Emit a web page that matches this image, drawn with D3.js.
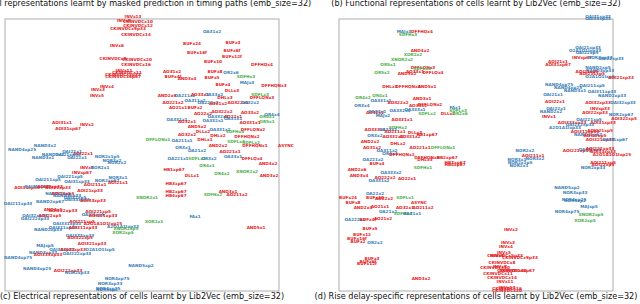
<!DOCTYPE html>
<html>
  <head>
    <meta charset="UTF-8">
    <title>Lib2Vec cell representations</title>
    <script src="https://d3js.org/d3.v7.min.js"></script>
    <style>
      body { margin: 0; background: #fff; }
      svg { display: block; }
      .cell { font-family: "DejaVu Sans", sans-serif; font-weight: bold; font-size: 4.2px; }
      .title { font-family: "DejaVu Sans", sans-serif; font-size: 8.1px; fill: #111; }
    </style>
  </head>
  <body>
    <div id="chart"></div>
    <script>

      // captions of the row above (cut off) and of this row
      const topTitles = [
        "(a) Cell representations learnt by masked prediction in timing paths (emb_size=32)",
        "(b) Functional representations of cells learnt by Lib2Vec (emb_size=32)"
      ];
      const bottomTitles = [
        "(c) Electrical representations of cells learnt by Lib2Vec (emb_size=32)",
        "(d) Rise delay-specific representations of cells learnt by Lib2Vec (emb_size=32)"
      ];

      // cell type -> colour group: r = logic/inverter/buffer, b = OAI/NAND/NOR, g = seq/xor
      const groupColors = { r: "#e41a1c", b: "#377eb8", g: "#4daf4a" };

      // (c) electrical embedding, 2-D projection [name, x, y, group]
      const elecCells = [
        ["INVx13", -9, 138, "r"], ["INVx8", -18, 134, "r"], ["CKINVDCx10", -4, 133, "r"],
        ["CKINVDCx12", -4, 129, "r"], ["CKINVDCx9p33", -14, 126, "r"], ["CKINVDCx14", -6, 120, "r"],
        ["OA31x2", 70, 123, "b"], ["BUFx24", 50, 111, "r"], ["BUFx3", 91, 112, "r"],
        ["INVx6", -25, 109, "r"], ["BUFx6f", 90, 104, "r"], ["BUFx16f", 55, 102, "r"],
        ["BUFx12f", 90, 98, "r"], ["CKINVDCx8", -29, 96, "r"], ["CKINVDCx20", -5, 95, "r"],
        ["CKINVDCx16", -6, 90, "r"], ["BUFx10", 71, 93, "r"], ["DFFHQx4", 120, 90, "r"],
        ["INVx11", -18, 84, "r"], ["CKINVDCx11", -15, 82, "r"], ["CKINVDCx5p33", -19, 80, "r"],
        ["CKINVDCx6p67", -19, 78, "r"], ["AO31x2", 30, 83, "r"], ["BUFx8", 73, 83, "r"],
        ["OR2x6", 89, 82, "b"], ["BUFx4f", 31, 78, "r"], ["AND3x4", 45, 76, "r"],
        ["BUFx5", 70, 77, "r"], ["SDFHx3", 104, 78, "g"], ["INVx4", -35, 68, "r"],
        ["INVx3", -44, 65, "r"], ["INVx5", -45, 59, "r"], ["BUFx4", 81, 70, "r"],
        ["MAJx3", 105, 72, "b"], ["DFFHQNx3", 132, 69, "r"], ["DLLx3", 90, 64, "r"],
        ["AND2x6", 25, 59, "r"], ["OA211x2", 43, 59, "b"], ["AO33x1", 58, 60, "r"],
        ["OA33x2", 72, 60, "b"], ["DHLx3", 83, 57, "r"], ["SDFLx3", 118, 60, "g"],
        ["DFFLQNx3", 120, 57, "r"], ["AO221x2", 31, 52, "r"], ["OA311x2", 53, 54, "b"],
        ["OA222x2", 66, 52, "b"], ["AO21x2", 76, 51, "r"], ["AO322x1", 96, 52, "r"],
        ["OA32x2", 108, 52, "b"], ["AO21x1", 36, 47, "r"], ["BUFx2", 53, 47, "r"],
        ["AO22x2", 61, 41, "r"], ["AO322x2", 80, 43, "r"], ["OA332x2", 76, 38, "b"],
        ["AO33x2", 108, 42, "r"], ["AO22x1", 91, 38, "r"], ["OA31x1", 91, 36, "b"],
        ["OR4x4", 130, 40, "b"], ["OR4x1", 125, 38, "g"], ["OR5x1", 125, 33, "g"],
        ["AO331x1", 108, 32, "r"], ["OA331x1", 35, 35, "b"], ["AO32x1", 45, 33, "r"],
        ["AND5x2", 55, 28, "r"], ["OA332x1", 71, 34, "b"], ["AO32x2", 45, 20, "r"],
        ["DLLx2", 61, 23, "r"], ["OA331x2", 78, 25, "b"], ["SDFHx4", 93, 23, "g"],
        ["DFFLQNx2", 111, 25, "r"], ["DHLx2", 76, 19, "r"], ["DFFHQNx2", 105, 18, "r"],
        ["DFFLQNx1", 16, 15, "g"], ["OA211x1", 40, 14, "b"], ["DHLx1", 63, 15, "r"],
        ["SDFLx4", 94, 13, "g"], ["SDFLx2", 109, 12, "g"], ["DFFHQNx1", 113, 9, "r"],
        ["ASYNC", 144, 9, "r"], ["AND2x2", 76, 9, "r"], ["OR3x1", 41, 7, "b"],
        ["OA21x2", 55, 4, "b"], ["AO221x1", 88, 3, "r"], ["OA221x1", 36, -4, "b"],
        ["SDFLx1", 55, -4, "g"], ["OR3x2", 67, -4, "b"], ["OA33x1", 91, -2, "b"],
        ["DFFLQx4", 110, -4, "r"], ["AOI31x1", -80, 32, "r"], ["INVx2", -55, 30, "r"],
        ["AOI31xp67", -74, 26, "r"], ["NAND3x2", -97, 9, "b"], ["NAND4xp25", -120, 5, "b"],
        ["OAI21x1", -70, 3, "b"], ["AOI22x1", -59, 1, "r"], ["NAND2x2", -89, 0, "b"],
        ["OAI21xp33", -74, 0, "b"], ["OAI22x1", -65, -3, "b"], ["NAND3x1", -99, -3, "b"],
        ["NOR2x1p5", -35, -2, "b"], ["NOR3x2", -30, -6, "b"], ["NOR2x2", -25, -8, "b"],
        ["INVx1", -55, -13, "r"], ["NOR2x1", -42, -13, "b"], ["INVxp67", -60, -18, "r"],
        ["OAI221xp5", -72, -22, "b"], ["OAI211xp5", -94, -25, "b"], ["OAI31xp33", -65, -27, "b"],
        ["NOR3x1", -24, -23, "b"], ["NOR2xp67", -35, -26, "b"], ["AOI211x1", -47, -30, "r"],
        ["AOI21x1", -24, -28, "r"], ["AOI31xp33", -115, -33, "r"], ["OAI31xp67", -105, -32, "b"],
        ["AOI32xp33", -92, -32, "r"], ["AOI22xp33", -84, -33, "r"], ["AOI21xp33", -52, -36, "r"],
        ["NAND2xp5", -84, -39, "b"], ["AOI21xp5", -79, -39, "r"], ["NAND3xp33", -75, -41, "b"],
        ["OAI22xp5", -67, -43, "b"], ["OAI33xp33", -65, -45, "b"], ["AOI33xp33", -49, -46, "r"],
        ["NAND2xp67", -92, -47, "b"], ["OAI211xp33", -124, -49, "b"], ["XNOR2x1", 5, -43, "g"],
        ["AND4x1", -89, -55, "r"], ["AOI222xp33", -79, -56, "r"], ["AOI221xp5", -44, -57, "r"],
        ["OAI32xp33", -107, -61, "b"], ["OAI222xp33", -107, -64, "b"], ["AOI22xp5", -92, -61, "r"],
        ["OAI21xp5", -49, -60, "b"], ["AOI221xp33", -39, -61, "r"], ["FAx1", 53, -62, "b"],
        ["XOR2x1", 12, -67, "g"], ["OAI331xp33", -75, -69, "b"], ["AOI211xp5", -60, -67, "r"],
        ["A2O1A1O1Ixp25", -39, -69, "r"], ["A2O1A1Ixp33", -19, -72, "b"], ["XNOR2xp5", -16, -74, "g"],
        ["XOR2xp5", -19, -78, "g"], ["NAND2xp33", -94, -75, "b"], ["OAI311xp33", -79, -73, "b"],
        ["AOI311xp33", -59, -73, "r"], ["OAI333xp33", -62, -81, "b"], ["AOI322xp5", -62, -83, "r"],
        ["OR4x1", 65, -11, "g"], ["OR4x2", 80, -19, "g"], ["XNOR2x2", 105, -17, "g"],
        ["AND4x2", 126, -9, "r"], ["AND3x2", 127, -21, "r"], ["HB1xp67", 32, -15, "r"],
        ["DLLx1", 50, -21, "r"], ["HB3xp67", 34, -29, "r"], ["HB2xp67", 34, -37, "r"],
        ["HB4xp67", 34, -41, "r"], ["SDFHx2", 71, -40, "g"], ["AND3x1", 86, -37, "r"],
        ["AO211x2", 95, -40, "r"], ["AND5x1", 114, -73, "r"], ["AOI321xp33", -50, -89, "r"],
        ["MAJxp5", -97, -91, "b"], ["NAND3xp33", -99, -98, "b"], ["AOI333xp33", -94, -100, "r"],
        ["OAI33xp33", -80, -95, "b"], ["AOI32xp33", -69, -95, "r"], ["O2A1O1Ixp5", -42, -95, "b"],
        ["OAI222xp33", -65, -99, "b"], ["NAND4xp75", -124, -103, "b"], ["NAND4xp25", -105, -114, "b"],
        ["AOI222xp33", -74, -116, "r"], ["NOR2xp33", -65, -118, "b"], ["NAND5xp2", -1, -111, "b"],
        ["NOR4xp75", -25, -124, "b"], ["NOR3xp33", -32, -129, "b"], ["NOR4xp25", -34, -134, "b"],
        ["NOR5xp2", -35, -135, "b"]
      ];

      // (d) rise delay embedding, 2-D projection [name, x, y, group]
      const riseCells = [
        ["OAI31xp33", 122, 138, "b"], ["OAI33xp33", 122, 136, "b"], ["MAJx3", -72, 123, "b"],
        ["DFFHQx4", -54, 123, "r"], ["SDFHx3", -68, 120, "g"], ["AND4x2", -56, 104, "r"],
        ["XOR2x2", -63, 100, "g"], ["XNOR2x2", -74, 95, "g"], ["OR5x1", -88, 90, "g"],
        ["OR5x2", -94, 82, "g"], ["DFFLQNx3", -53, 87, "r"], ["SDFLx4", -54, 86, "g"],
        ["AND5x2", -69, 81, "r"], ["AO33x1", -61, 83, "r"], ["DFFLQx4", -43, 82, "r"],
        ["OAI21xp33", 112, 107, "b"], ["O2A1O1Ixp33", 109, 104, "b"], ["OAI22xp5", 111, 102, "b"],
        ["AOI21x1", 82, 93, "r"], ["AOI31xp67", 82, 90, "r"], ["INVxp67", 106, 97, "r"],
        ["NOR3xp33", 124, 97, "b"], ["OAI22xp33", 135, 96, "b"], ["NAND2xp5", 122, 87, "b"],
        ["NAND3xp33", 124, 84, "b"], ["AOI21xp5", 111, 83, "r"], ["AOI211xp5", 116, 81, "r"],
        ["O2A1O1Ixp5", 124, 78, "b"], ["AOI21xp33", 145, 77, "r"], ["NAND4xp75", 83, 70, "b"],
        ["OAI211xp5", 116, 69, "b"], ["NAND4xp25", 92, 67, "b"], ["NAND3x1", 99, 64, "b"],
        ["OAI311xp33", 126, 63, "b"], ["OAI21x1", 77, 60, "b"], ["NAND2xp33", 136, 59, "b"],
        ["AOI22x1", 79, 53, "r"], ["AOI32xp33", 122, 52, "r"], ["OAI32xp33", 147, 52, "b"],
        ["OAI22x1", 80, 46, "b"], ["NAND2x2", 75, 43, "b"], ["INVx1", 73, 38, "r"],
        ["INVxp33", 124, 46, "r"], ["AOI22xp33", 119, 42, "r"], ["NOR2xp67", 145, 40, "b"],
        ["AOI322xp5", 148, 36, "r"], ["OAI221xp5", 113, 35, "b"], ["AOI31xp33", 127, 32, "r"],
        ["AOI333xp33", 96, 32, "r"], ["OAI222xp33", 104, 30, "b"], ["A2O1A1Ixp33", 89, 27, "b"],
        ["AOI221xp5", 124, 24, "r"], ["AOI311xp33", 109, 23, "r"], ["NAND2xp67", 112, 20, "b"],
        ["AOI22xp5", 119, 19, "r"], ["AOI321xp33", 124, 15, "r"], ["OAI31xp67", 139, 15, "b"],
        ["DHLx1", -86, 68, "r"], ["DFFHQNx3", -68, 68, "r"], ["AND5x1", -49, 68, "r"],
        ["OR4x1", -96, 59, "g"], ["OR4x2", -113, 57, "g"], ["OA331x1", -95, 54, "b"],
        ["AND3x1", -54, 56, "r"], ["OR3x4", -114, 49, "b"], ["AO322x2", -78, 52, "r"],
        ["AO33x2", -58, 49, "r"], ["DFFLQNx2", -46, 50, "r"], ["AO32x2", -101, 42, "r"],
        ["OA33x2", -99, 43, "b"], ["MAJx2", -93, 39, "b"], ["OA332x1", -76, 44, "b"],
        ["OA333x1", -61, 45, "b"], ["SDFLx2", -49, 41, "g"], ["FAx1", -21, 47, "b"],
        ["SDFLx3", -18, 44, "g"], ["DLLx2", -28, 41, "r"], ["OR2x6", -16, 41, "g"],
        ["AO331x1", -74, 35, "r"], ["SDFHx2", -78, 27, "g"], ["AO333x1", -101, 25, "r"],
        ["OA33x1", -88, 25, "b"], ["AO211x1", -81, 23, "r"], ["DLLx3", -61, 22, "r"],
        ["HB1xp67", -49, 20, "r"], ["OR3x2", -101, 19, "b"], ["AO332x2", -83, 18, "r"],
        ["AO331x2", -66, 18, "r"], ["AND2x2", -106, 13, "r"], ["AO31x2", -104, 7, "r"],
        ["DHLx2", -78, 11, "r"], ["AO221x1", -56, 7, "r"], ["DFFLQNx1", -33, 7, "g"],
        ["OA311x2", -89, 4, "b"], ["OR4x4", -86, 1, "b"], ["DFFHQNx2", -74, 0, "r"],
        ["DFFHQNx1", -49, -3, "r"], ["DHLx3", -51, -5, "r"], ["HB2xp67", -29, -3, "r"],
        ["HB3xp67", -21, -8, "r"], ["HB4xp67", -21, -10, "r"], ["OA221x2", -103, -5, "b"],
        ["BUFx4", -99, -9, "r"], ["SDFHx1", -53, -13, "g"], ["AND2x6", -119, -15, "r"],
        ["AND3x4", -117, -21, "r"], ["OA333x2", -85, -18, "b"], ["AO222x2", -91, -23, "r"],
        ["OA331x2", -97, -26, "b"], ["AO22x1", -69, -24, "r"], ["OA22x2", -101, -39, "b"],
        ["BUFx24", -128, -43, "r"], ["BUFx8", -123, -48, "r"], ["BUFx10", -101, -43, "r"],
        ["AO22x2", -92, -44, "r"], ["SDFLx1", -71, -43, "g"], ["ASYNC", -57, -48, "r"],
        ["AND2x4", -113, -53, "r"], ["AO21x1", -96, -52, "r"], ["AO32x1", -71, -53, "r"],
        ["AO211x2", -53, -53, "r"], ["OA21x2", -88, -57, "b"], ["SDFHx4", -73, -59, "g"],
        ["OA31x1", -64, -59, "b"], ["OA222x2", -121, -65, "b"], ["BUFx4f", -108, -65, "r"],
        ["AO21x2", -93, -64, "r"], ["BUFx5", -106, -74, "r"], ["BUFx12", -114, -80, "r"],
        ["BUFx16f", -119, -84, "r"], ["BUFx2", -118, -87, "r"], ["OR2x2", -101, -88, "b"],
        ["BUFx3", -104, -104, "r"], ["BUFx6f", -108, -107, "r"], ["BUFx12f", -109, -109, "r"],
        ["AND3x2", -55, -124, "r"], ["NOR3x1", 41, -5, "b"], ["NOR2x1p5", 44, -8, "b"],
        ["NOR2x1", 43, -11, "b"], ["NOR2x2", 49, 4, "b"], ["AOI211x1", 57, -1, "r"],
        ["NOR3x2", 59, -4, "b"], ["AOI221xp33", 101, 4, "r"], ["OAI21xp5", 114, 5, "b"],
        ["AOI222xp33", 124, 6, "r"], ["AOI33xp33", 127, 3, "r"], ["A2O1A1O1Ixp25", 136, 0, "r"],
        ["AOI211xp5", 127, -8, "r"], ["AOI22xp5", 127, -10, "r"], ["NOR2xp33", 117, -13, "b"],
        ["NAND5xp2", 91, -33, "b"], ["NOR3xp33", 99, -38, "b"], ["NOR4xp25", 98, -45, "b"],
        ["NOR5xp2", 99, -46, "b"], ["MAJxp5", 113, -52, "b"], ["NOR4xp75", 91, -57, "b"],
        ["XNOR2xp5", 115, -60, "g"], ["XOR2xp5", 109, -66, "g"], ["INVx2", 35, -75, "r"],
        ["INVx3", 32, -88, "r"], ["INVx4", 30, -92, "r"], ["INVx5", 28, -98, "r"],
        ["CKINVDCx5p33", 29, -101, "r"], ["CKINVDCx9p33", 44, -103, "r"], ["INVx6", 21, -101, "r"],
        ["CKINVDCx8", 26, -108, "r"], ["INVx8", 24, -112, "r"], ["CKINVDCx10", 19, -113, "r"],
        ["CKINVDCx12", 36, -116, "r"], ["CKINVDCx6p67", 41, -116, "r"], ["CKINVDCx11", 22, -119, "r"],
        ["CKINVDCx14", 26, -123, "r"], ["INVx11", 29, -127, "r"], ["INVx13", 31, -133, "r"],
        ["CKINVDCx16", 31, -134, "r"], ["CKINVDCx20", 31, -136, "r"]
      ];

      const width = 640;
      const height = 304;
      const panelW = 274;
      const panelH = 272;
      const panelTop = 19;
      const panelLefts = [5, 339];

      const svg = d3.select("#chart")
        .append("svg")
        .attr("width", width)
        .attr("height", height);

      // captions
      svg.selectAll("text.top-title")
        .data(topTitles)
        .enter()
        .append("text")
        .attr("class", "title top-title")
        .attr("x", (d, i) => panelLefts[i] + panelW / 2)
        .attr("y", 5.5)
        .attr("text-anchor", "middle")
        .text(d => d);

      svg.selectAll("text.bottom-title")
        .data(bottomTitles)
        .enter()
        .append("text")
        .attr("class", "title bottom-title")
        .attr("x", (d, i) => panelLefts[i] + panelW / 2)
        .attr("y", 298.5)
        .attr("text-anchor", "middle")
        .text(d => d);

      function drawPanel(cells, left) {
        const x = d3.scaleLinear().domain([-137, 137]).range([left, left + panelW]);
        const y = d3.scaleLinear().domain([-136, 136]).range([panelTop + panelH, panelTop]);

        const g = svg.append("g");

        g.append("rect")
          .attr("x", x(-137))
          .attr("y", y(136))
          .attr("width", x(137) - x(-137))
          .attr("height", y(-136) - y(136))
          .attr("fill", "none")
          .attr("stroke", "#9a9a9a")
          .attr("stroke-width", 0.8);

        g.selectAll("text.cell")
          .data(cells)
          .enter()
          .append("text")
          .attr("class", "cell")
          .attr("x", d => x(d[1]))
          .attr("y", d => y(d[2]))
          .attr("dy", "0.35em")
          .attr("text-anchor", "middle")
          .attr("fill", d => groupColors[d[3]])
          .text(d => d[0]);
      }

      drawPanel(elecCells, panelLefts[0]);
      drawPanel(riseCells, panelLefts[1]);

    </script>
  </body>
</html>
